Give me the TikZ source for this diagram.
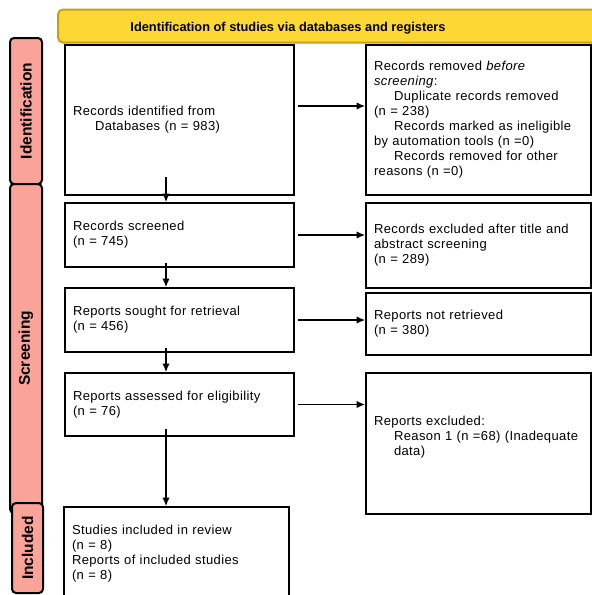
\documentclass[tikz,border=0pt]{standalone}
\usepackage{fontspec}
\setmainfont{Liberation Sans}[LetterSpace=3]
\newfontfamily\headfont{Liberation Sans}
\usetikzlibrary{arrows.meta}

\definecolor{headyellow}{RGB}{253,216,53}
\definecolor{headrim}{RGB}{196,160,20}
\definecolor{phasepink}{RGB}{250,163,153}

\begin{document}
\begin{tikzpicture}[
		x=1pt,y=-1pt,
		>={Latex[length=8.5pt,width=7.5pt]},
		font=\fontsize{13}{15}\selectfont,
		headbar/.style={draw=headrim,fill=headyellow,line width=2pt,rounded corners=5pt,minimum width=562pt,minimum height=33pt},
		phasebar/.style={draw,fill=phasepink,line width=2pt,rounded corners=4pt,rotate=90,font=\headfont\bfseries\fontsize{15.5}{18}\selectfont},
		leftbox/.style={draw,fill=white,line width=2pt,align=left,inner xsep=8pt,text width=213pt},
		rightbox/.style={draw,fill=white,line width=2pt,align=left,inner xsep=8pt,text width=209pt},
		link/.style={->,line width=1.2pt}
		]
		\useasboundingbox (0,0) rectangle (592,595);
		\clip (0,0) rectangle (592,595);
		
		\node[headbar](head) at (339,26){};
		\node[font=\headfont\bfseries\fontsize{12.8}{15}\selectfont](headtext) at (288,28){Identification of studies via databases and registers};
		
		\node[phasebar,minimum width=146pt,minimum height=32pt](ident) at (26,111){Identification};
		\node[phasebar,minimum width=329pt,minimum height=32pt](screen) at (26,348.5){Screening};
		\node[phasebar,minimum width=90pt,minimum height=31pt](incl) at (27.5,548){Included};
		
		\node[leftbox,minimum height=150pt](recid) at (179.5,120){Records identified from\\ \hspace*{22pt}Databases (n = 983)};
		\node[leftbox,minimum height=64pt](screened) at (179.5,235){Records screened\\ (n = 745)};
		\node[leftbox,minimum height=64pt](sought) at (179.5,320){Reports sought for retrieval\\ (n = 456)};
		\node[leftbox,minimum height=63pt](assessed) at (179.5,404.5){Reports assessed for eligibility\\ (n = 76)};
		\node[leftbox,text width=209pt,minimum height=93pt](included) at (176.5,553.5){Studies included in review\\ (n = 8)\\ Reports of included studies\\ (n = 8)};
		
		\node[rightbox,minimum height=150pt](removed) at (478.5,120){Records removed \textit{before}\\ \textit{screening}:\\ \hspace*{20pt}Duplicate records removed\\ (n = 238)\\ \hspace*{20pt}Records marked as ineligible\\ by automation tools (n =0)\\ \hspace*{20pt}Records removed for other\\ reasons (n =0)};
		\node[rightbox,minimum height=85pt](excluded) at (478.5,245.5){Records excluded after title and\\ abstract screening\\ (n = 289)};
		\node[rightbox,minimum height=62pt](notretr) at (478.5,324){Reports not retrieved\\ (n = 380)};
		\node[rightbox,minimum height=141pt](repexcl) at (478.5,443.5){Reports excluded:\\ \hspace*{20pt}Reason 1 (n =68) (Inadequate\\ \hspace*{20pt}data)\\ \mbox{}};
		
		% down the left column
		\draw[link] ([xshift=-13.5pt,yshift=19pt]recid.south) -- ([xshift=-13.5pt]screened.north);
		\draw[link] ([xshift=-13.5pt,yshift=5pt]screened.south) -- ([xshift=-13.5pt]sought.north);
		\draw[link] ([xshift=-13.5pt,yshift=5pt]sought.south) -- ([xshift=-13.5pt]assessed.north);
		\draw[link] ([xshift=-13.5pt,yshift=8pt]assessed.south) -- ([xshift=-13.5pt]assessed.south |- included.north);
		
		% across to the right column
		\draw[link] ([xshift=3pt,yshift=14pt]recid.east) -- ([yshift=14pt]recid.east -| removed.west);
		\draw[link] ([xshift=3pt]screened.east) -- (screened.east -| excluded.west);
		\draw[link] ([xshift=3pt]sought.east) -- (sought.east -| notretr.west);
		\draw[link] ([xshift=3pt]assessed.east) -- (assessed.east -| repexcl.west);
		
		\end{tikzpicture}
\end{document}
